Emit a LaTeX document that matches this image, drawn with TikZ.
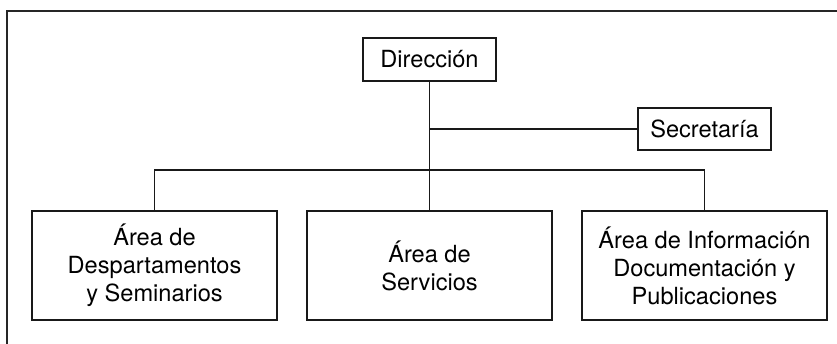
\documentclass[tikz,border=0pt]{standalone}
\usepackage{fontspec}
\setmainfont{TeX Gyre Heros}
\begin{document}
\begin{tikzpicture}[x=1pt,y=-1pt,
  orgbox/.style={draw=black!90, line width=1.1pt, inner sep=0pt, align=center,
    text=black, font=\fontsize{23.6}{28}\selectfont},
  conn/.style={draw=black!90, line width=1.1pt},
  frame/.style={draw=black!85, line width=1.3pt}]
\useasboundingbox (0,0) rectangle (837,344);
\draw[frame] (837,11) -- (7,11) -- (7,344);
\node[orgbox, minimum width=133pt, minimum height=43pt] (dir) at (429.5,59.5) {Dirección};
\node[orgbox, minimum width=133pt, minimum height=42pt] (sec) at (704.5,129) {Secretaría};
\node[orgbox, minimum width=245pt, minimum height=109pt] (a1) at (154.5,265.5) {Área de\\Despartamentos\\y Seminarios};
\node[orgbox, minimum width=245pt, minimum height=109pt] (a2) at (429.5,265.5) {Área de\\Servicios};
\node[orgbox, minimum width=245pt, minimum height=109pt] (a3) at (704.5,265.5) {Área de Información\\Documentación y\\Publicaciones};
\coordinate (busy) at (0,170);
\draw[conn] (dir.south) -- (a2.north);
\draw[conn] (dir.south |- sec.west) -- (sec.west);
\draw[conn] (a1.north) -- (a1.north |- busy) -- (a3.north |- busy) -- (a3.north);
\end{tikzpicture}
\end{document}
